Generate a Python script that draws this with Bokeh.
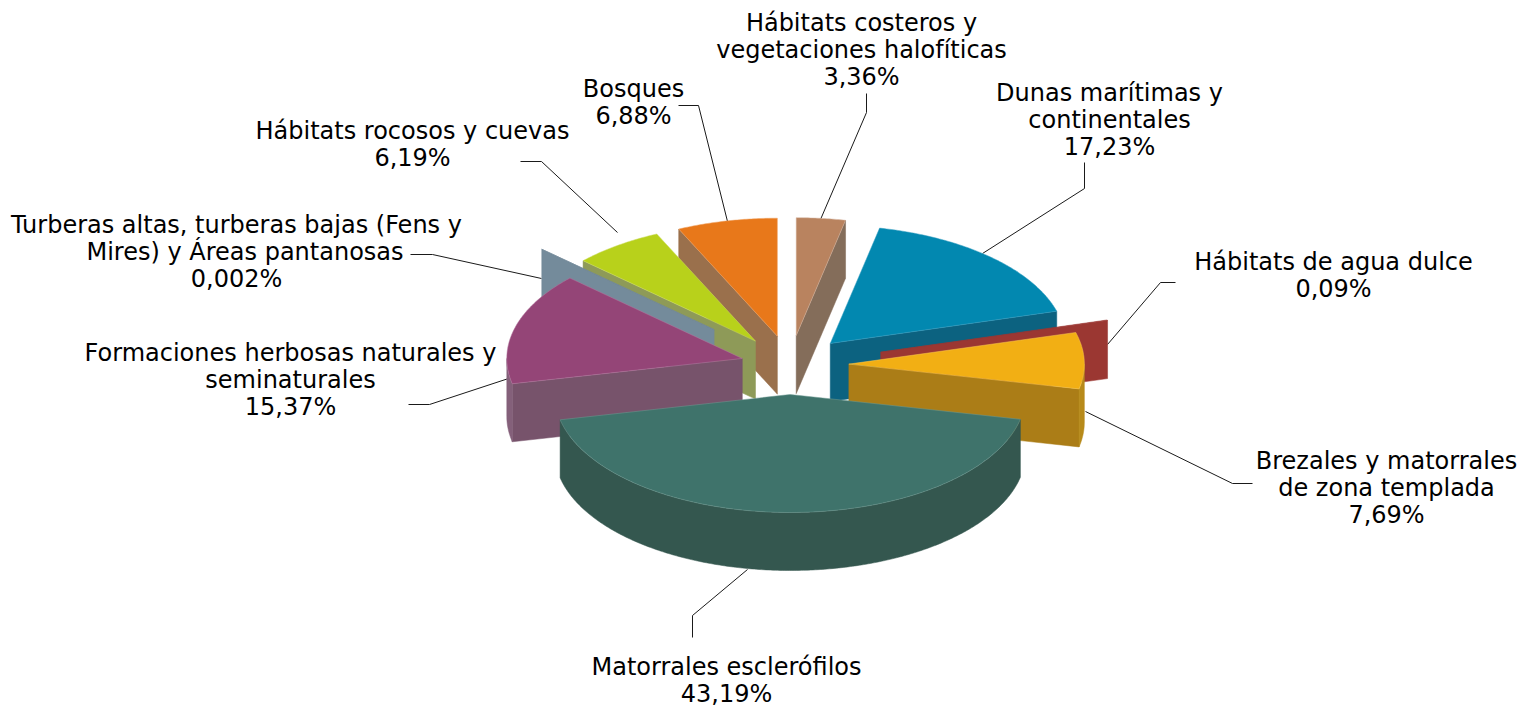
import math
from bokeh.plotting import figure
from bokeh.models import Range1d
from bokeh.core.properties import value
from bokeh.embed import file_html
from bokeh.resources import INLINE

# ---- data (clockwise from 12 o'clock) ----
names = [
    ["Hábitats costeros y", "vegetaciones halofíticas"],
    ["Dunas marítimas y", "continentales"],
    ["Hábitats de agua dulce"],
    ["Brezales y matorrales", "de zona templada"],
    ["Matorrales esclerófilos"],
    ["Formaciones herbosas naturales y", "seminaturales"],
    ["Turberas altas, turberas bajas (Fens y", "Mires) y Áreas pantanosas"],
    ["Hábitats rocosos y cuevas"],
    ["Bosques"],
]
shares = [3.36, 17.23, 0.09, 7.69, 43.19, 15.37, 0.002, 6.19, 6.88]
share_labels = ["3,36%", "17,23%", "0,09%", "7,69%", "43,19%", "15,37%", "0,002%", "6,19%", "6,88%"]

# ---- styling / layout ----
explode = [0.25, 0.25, 0.40, 0.25, 0.25, 0.21, 0.44, 0.25, 0.25]
top_colors = ["#B9835F", "#0288B0", "#9B3732", "#F2AF14", "#3F736B", "#944577", "#748B9B", "#B8D11B", "#E8781A"]
face_colors = ["#846D5A", "#0C6280", "#9B3732", "#AB7D17", "#34574F", "#77536B", "#748B9B", "#8E9A58", "#9A704C"]
rim_colors = ["#846D5A", "#0C6280", "#9B3732", "#B78A1A", "#34574F", "#84607A", "#748B9B", "#8E9A58", "#9A704C"]
edge_colors = ["#D9B9A4", "#3FA3C4", "#9B3732", "#F6C757", "#6F9A92", "#B478A0", "#748B9B", "#CDDD62", "#F0A466"]
draw_order = [0, 8, 7, 6, 1, 2, 5, 3, 4]

CX, CY, RX, RY, DEPTH = 789.5, 364.5, 235.5, 118.0, 58.0

label_centers = [(861, 22), (1109, 92), (1333, 261), (1386, 460), (726, 666),
                 (290, 352), (236, 224), (412, 130), (633, 88)]
row_shift = {(6, 1): 8.5}   # the second row of the Turberas label sits off-centre
LINE_H = 27.2
leaders = [
    [(866, 93), (866, 112), (820, 219)],
    [(1084, 162), (1084, 188), (982, 253)],
    [(1175, 282), (1160, 282), (1107, 344)],
    [(1252, 483), (1232, 483), (1085, 411)],
    [(692, 637), (692, 615), (747, 569)],
    [(408, 404), (429, 404), (508, 378)],
    [(410, 254), (432, 254), (541, 278)],
    [(520, 161), (541, 161), (617, 232)],
    [(678, 105), (698, 105), (727, 221)],
]

# ---- geometry derived from the shares ----
total = sum(shares)
starts, ends, acc = [], [], 0.0
for s in shares:
    starts.append(acc / total * 2 * math.pi)
    acc += s
    ends.append(acc / total * 2 * math.pi)


def rim(ax, ay, t):
    return ax + RX * math.sin(t), ay - RY * math.cos(t)


def arc_angles(a, b):
    n = max(2, int((b - a) / 0.01))
    return [a + (b - a) * i / n for i in range(n + 1)]


xs, ys, fills, lines = [], [], [], []


def add(poly, fill, line):
    xs.append([q[0] for q in poly])
    ys.append([q[1] for q in poly])
    fills.append(fill)
    lines.append(line)


for i in draw_order:
    a, b = starts[i], ends[i]
    m = (a + b) / 2
    ax = CX + explode[i] * RX * math.sin(m)
    ay = CY - explode[i] * RY * math.cos(m)
    # visible radial face (the central slice shows only its outer wall)
    if not (a >= math.pi / 2 and b <= 3 * math.pi / 2):
        t = b if m < math.pi else a
        rx_, ry_ = rim(ax, ay, t)
        add([(ax, ay), (rx_, ry_), (rx_, ry_ + DEPTH), (ax, ay + DEPTH)], face_colors[i], face_colors[i])
    # visible outer wall
    lo, hi = max(a, math.pi / 2), min(b, 3 * math.pi / 2)
    if hi > lo:
        top = [rim(ax, ay, u) for u in arc_angles(lo, hi)]
        add(top + [(q[0], q[1] + DEPTH) for q in reversed(top)], rim_colors[i], rim_colors[i])
    # top surface
    add([(ax, ay)] + [rim(ax, ay, u) for u in arc_angles(a, b)], top_colors[i], edge_colors[i])

W, H = 1524, 709
p = figure(width=W, height=H, output_backend="svg", toolbar_location=None,
           x_range=Range1d(0, W), y_range=Range1d(H, 0),
           x_axis_type=None, y_axis_type=None, min_border=0,
           background_fill_color="white", border_fill_color="white", outline_line_color=None)
p.grid.visible = False

for seg in leaders:
    p.line([q[0] for q in seg], [q[1] for q in seg], line_color="#1a1a1a", line_width=1)

p.patches(xs, ys, fill_color=fills, line_color=lines, line_width=0.5)

for i, (cx, cy) in enumerate(label_centers):
    rows = names[i] + [share_labels[i]]
    p.text([cx + row_shift.get((i, k), 0) for k in range(len(rows))],
           [cy + LINE_H * k for k in range(len(rows))], text=rows,
           text_align="center", text_baseline="middle", text_color="#000000",
           text_font=value("DejaVu Sans"), text_font_size="24px")

open("out.html", "w").write(file_html(p, INLINE))
